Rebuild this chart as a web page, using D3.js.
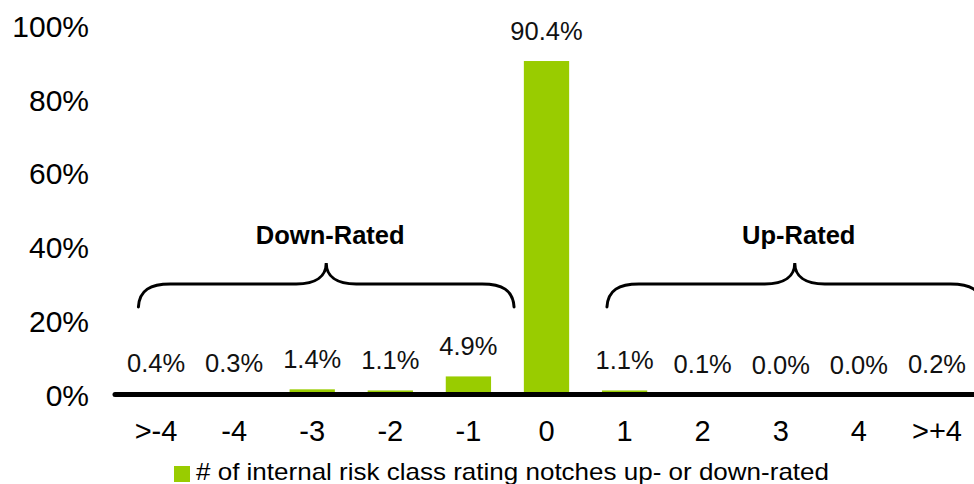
<!DOCTYPE html>
<html>
<head>
<meta charset="utf-8">
<script src="https://cdn.jsdelivr.net/npm/d3@7"></script>
<style>
  html, body { margin: 0; padding: 0; background: #fff; }
  svg { display: block; font-family: "Liberation Sans", Arial, sans-serif; }
</style>
</head>
<body>
<svg id="chart" width="974" height="484"></svg>
<script>
// Rating migration: share of exposures by notches moved
const categories = [">-4", "-4", "-3", "-2", "-1", "0", "1", "2", "3", "4", ">+4"];
const values = [0.4, 0.3, 1.4, 1.1, 4.9, 90.4, 1.1, 0.1, 0.0, 0.0, 0.2];
const valueLabels = ["0.4%", "0.3%", "1.4%", "1.1%", "4.9%", "90.4%", "1.1%", "0.1%", "0.0%", "0.0%", "0.2%"];
const yTicks = [0, 20, 40, 60, 80, 100];
const groups = [
  { label: "Down-Rated", from: ">-4", to: "-1" },
  { label: "Up-Rated", from: "1", to: ">+4" }
];
const legendLabel = "# of internal risk class rating notches up- or down-rated";

const GREEN = "#99cc00";
const svg = d3.select("#chart");

const x = d3.scaleBand()
  .domain(categories)
  .range([117, 976])
  .paddingInner(0.42)
  .paddingOuter(0.21);

const y = d3.scaleLinear().domain([0, 100]).range([394.5, 25.6]);

// y tick labels (no axis line, no tick marks)
const yAxis = d3.axisLeft(y).tickValues(yTicks).tickFormat(d => d + "%").tickSize(0).tickPadding(0);
const gy = svg.append("g").attr("transform", "translate(89,0)").call(yAxis);
gy.select(".domain").remove();
gy.selectAll("text")
  .attr("font-size", 30)
  .attr("font-family", "'Liberation Sans', Arial, sans-serif")
  .attr("fill", "#000")
  .attr("dy", "0.36em");

// bars
svg.append("g").selectAll("rect")
  .data(values)
  .join("rect")
  .attr("x", (d, i) => x(categories[i]))
  .attr("width", x.bandwidth())
  .attr("y", d => y(d))
  .attr("height", d => y(0) - y(d))
  .attr("fill", GREEN);

// value labels
svg.append("g").selectAll("text")
  .data(values)
  .join("text")
  .attr("x", (d, i) => x(categories[i]) + x.bandwidth() / 2)
  .attr("y", d => y(d) - 21)
  .attr("text-anchor", "middle")
  .attr("font-size", 25.5)
  .attr("fill", "#111")
  .text((d, i) => valueLabels[i]);

// category axis
const xAxis = d3.axisBottom(x).tickSize(0).tickPadding(0);
const gx = svg.append("g").attr("transform", `translate(0,${y(0)})`).call(xAxis);
gx.select(".domain").remove();
gx.selectAll("text")
  .attr("font-size", 29)
  .attr("font-family", "'Liberation Sans', Arial, sans-serif")
  .attr("fill", "#000")
  .attr("dy", 0)
  .attr("y", 46.5);

svg.append("line")
  .attr("x1", 115).attr("x2", 990)
  .attr("y1", y(0)).attr("y2", y(0))
  .attr("stroke", "#000")
  .attr("stroke-width", 5)
  .attr("stroke-linecap", "round");

// curly braces with group titles
const braceFlat = 284, braceEnd = 307, braceTip = 263;
function bracePath(x1, x2) {
  const m = (x1 + x2) / 2;
  return `M${x1},${braceEnd}` +
    `C${x1 + 1},${braceFlat + 6} ${x1 + 12},${braceFlat} ${x1 + 32},${braceFlat}` +
    `L${m - 30},${braceFlat}` +
    `C${m - 10},${braceFlat} ${m},${braceFlat - 8} ${m},${braceTip}` +
    `C${m},${braceFlat - 8} ${m + 10},${braceFlat} ${m + 30},${braceFlat}` +
    `L${x2 - 32},${braceFlat}` +
    `C${x2 - 12},${braceFlat} ${x2 - 1},${braceFlat + 6} ${x2},${braceEnd}`;
}
groups.forEach(g => {
  const x1 = x(g.from) + 5;
  const x2 = x(g.to) + x.bandwidth() + 23;
  svg.append("path")
    .attr("d", bracePath(x1, x2))
    .attr("fill", "none")
    .attr("stroke", "#000")
    .attr("stroke-width", 3)
    .attr("stroke-linecap", "round");
  svg.append("text")
    .attr("x", (x1 + x2) / 2 + 4)
    .attr("y", 244)
    .attr("text-anchor", "middle")
    .attr("font-size", 25.5)
    .attr("font-weight", "bold")
    .attr("fill", "#000")
    .text(g.label);
});

// legend
svg.append("rect")
  .attr("x", 174).attr("y", 466)
  .attr("width", 16).attr("height", 16)
  .attr("fill", GREEN);
svg.append("text")
  .attr("x", 196).attr("y", 480)
  .attr("font-size", 24)
  .attr("textLength", 633)
  .attr("lengthAdjust", "spacingAndGlyphs")
  .attr("fill", "#000")
  .text(legendLabel);
</script>
</body>
</html>
